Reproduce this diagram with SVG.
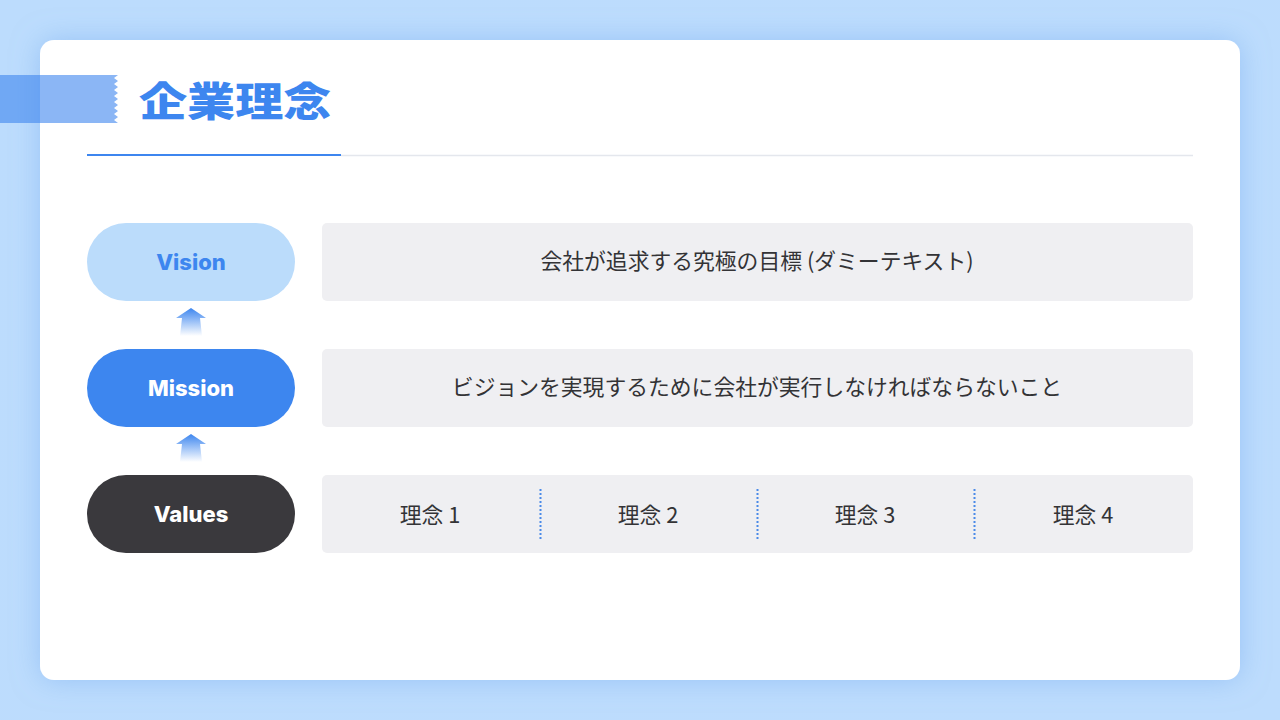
<svg xmlns="http://www.w3.org/2000/svg" width="1280" height="720" viewBox="0 0 1280 720">
  <defs>
    <linearGradient id="bg" x1="0" y1="0" x2="1" y2="1">
      <stop offset="0" stop-color="#bcdcfd"/>
      <stop offset="1" stop-color="#bddcfd"/>
    </linearGradient>
    <filter id="shadow" x="-10%" y="-10%" width="120%" height="120%">
      <feDropShadow dx="0" dy="0" stdDeviation="14" flood-color="#7aaeef" flood-opacity="0.55"/>
    </filter>
    <linearGradient id="arrowGrad" x1="0" y1="0" x2="0" y2="1">
      <stop offset="0" stop-color="#3d86ef"/>
      <stop offset="1" stop-color="#3d86ef" stop-opacity="0"/>
    </linearGradient>
    <style>
      .jp { font-family: "Noto Sans CJK JP", "Noto Sans", sans-serif; }
      .pill-text { font-family: Inter, "Liberation Sans", sans-serif; font-weight: 800; font-size: 22px; text-anchor: middle; }
      .box { fill: #efeff2; }
      .box-text { font-family: "Noto Sans CJK JP", sans-serif; font-size: 21.8px; fill: #333336; text-anchor: middle; }
      .divider { stroke: #4a8ae8; stroke-width: 2; stroke-dasharray: 2 2; }
      .arrow { fill: url(#arrowGrad); }
    </style>
  </defs>

  <rect width="1280" height="720" fill="url(#bg)"/>
  <rect x="40" y="40" width="1200" height="640" rx="14" fill="#ffffff" filter="url(#shadow)"/>

  <g id="title">
    <path d="M0 75 H118 l-4 3 l4 3 l-4 3 l4 3 l-4 3 l4 3 l-4 3 l4 3 l-4 3 l4 3 l-4 3 l4 3 l-4 3 l4 3 l-4 3 l4 3 V123 H0 Z" fill="#3d86ef" fill-opacity="0.6"/>
    <text transform="translate(139 101) scale(1.045 0.86)" x="0" y="17.5" class="jp" font-size="46" font-weight="900" fill="#3d86ef" stroke="#ffffff" stroke-width="1" paint-order="stroke">企業理念</text>
    <line x1="341" y1="155.5" x2="1193" y2="155.5" stroke="#e4e7ed" stroke-width="1.5"/>
    <line x1="87" y1="155" x2="341" y2="155" stroke="#3d86ef" stroke-width="2"/>
  </g>

  <g id="connectors">
    <path class="arrow" d="M191 308 L206 318 L200 318 L202 336 L180 336 L182 318 L176 318 Z"/>
    <path class="arrow" d="M191 434 L206 444 L200 444 L202 462 L180 462 L182 444 L176 444 Z"/>
  </g>

  <g id="vision">
    <rect x="87" y="223" width="208" height="78" rx="39" fill="#bbdcfb"/>
    <text x="191" y="270" class="pill-text" fill="#3d86ef">Vision</text>
  </g>
  <g id="vision-desc">
    <rect class="box" x="322" y="223" width="871" height="78" rx="5"/>
    <text x="757" y="269" class="box-text">会社が追求する究極の目標 (ダミーテキスト)</text>
  </g>

  <g id="mission">
    <rect x="87" y="349" width="208" height="78" rx="39" fill="#3d86ef"/>
    <text x="191" y="396" class="pill-text" fill="#ffffff">Mission</text>
  </g>
  <g id="mission-desc">
    <rect class="box" x="322" y="349" width="871" height="78" rx="5"/>
    <text x="757" y="395" class="box-text">ビジョンを実現するために会社が実行しなければならないこと</text>
  </g>

  <g id="values">
    <rect x="87" y="475" width="208" height="78" rx="39" fill="#3a393d"/>
    <text x="191" y="522" class="pill-text" fill="#ffffff">Values</text>
  </g>
  <g id="values-desc">
    <rect class="box" x="322" y="475" width="871" height="78" rx="5"/>
    <line class="divider" x1="540.5" y1="489" x2="540.5" y2="541"/>
    <line class="divider" x1="757.5" y1="489" x2="757.5" y2="541"/>
    <line class="divider" x1="974.5" y1="489" x2="974.5" y2="541"/>
    <text x="430" y="523" class="box-text">理念 1</text>
    <text x="648" y="523" class="box-text">理念 2</text>
    <text x="865" y="523" class="box-text">理念 3</text>
    <text x="1083" y="523" class="box-text">理念 4</text>
  </g>
</svg>
